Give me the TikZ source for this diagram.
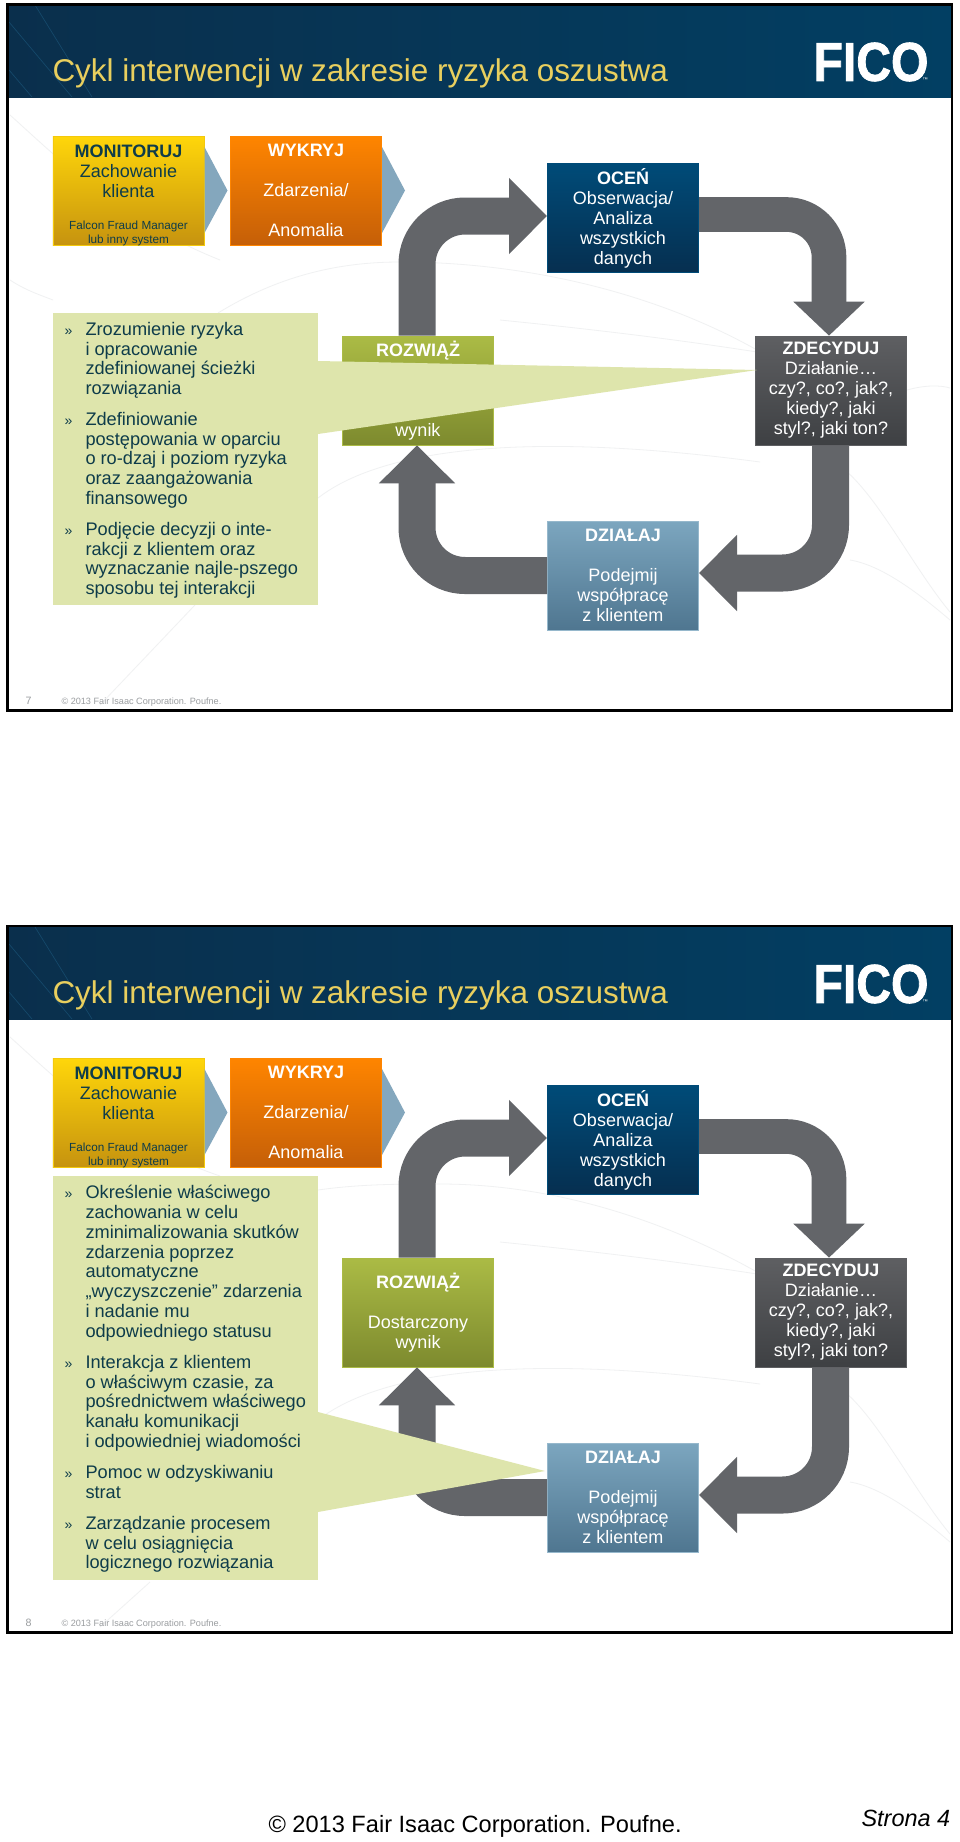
\documentclass[tikz,border=0pt]{standalone}
\usepackage{fontspec}
\setmainfont{Liberation Sans}
\newfontfamily\logofont[BoldFeatures={FakeBold=1.6}]{Liberation Sans}
\usetikzlibrary{arrows.meta,calc}

\definecolor{headdark}{HTML}{0A2F4C}
\definecolor{headblue}{HTML}{023F63}
\definecolor{headline}{HTML}{15496B}
\definecolor{titleyellow}{HTML}{E9CF5E}
\definecolor{panelgreen}{HTML}{DEE5AC}
\definecolor{bodyteal}{HTML}{0E3C4A}
\definecolor{arrowgray}{HTML}{636569}
\definecolor{chevronblue}{HTML}{84A7BD}
\definecolor{wavegray}{HTML}{F0F1F2}
\definecolor{footgray}{HTML}{9A9DA0}

\tikzset{every picture/.style={line width=0.75pt}}
\tikzset{
  stepbox/.style={minimum width=113.5pt,minimum height=81.75pt,inner sep=0pt,align=center,line width=0.5pt,text=white,font=\fontsize{13.5}{15}\selectfont},
  monitorbox/.style={stepbox,top color=monitortop,bottom color=monitorbot,draw=monitortop!80!monitorbot},
  detectbox/.style={stepbox,top color=detecttop,bottom color=detectbot,draw=detecttop},
  assessbox/.style={stepbox,top color=assesstop,bottom color=assessbot,draw=assesstop},
  decidebox/.style={stepbox,top color=decidetop,bottom color=decidebot,draw=decidetop},
  actbox/.style={stepbox,top color=acttop,bottom color=actbot,draw=acttop!80!white},
  solvebox/.style={stepbox,top color=solvetop,bottom color=solvebot,draw=solvetop},
  cyclearrow/.style={draw=arrowgray,line width=27.75pt,rounded corners=36pt,-{Triangle[width=55.5pt,length=28.5pt]}},
  cyclearrowthin/.style={draw=arrowgray,line width=26pt,rounded corners=32pt,-{Triangle[width=52pt,length=25.5pt]}},
  chevron/.style={fill=chevronblue},
  panelbox/.style={fill=panelgreen,minimum width=199pt,inner sep=0pt},
  paratext/.style={anchor=north west,inner sep=0pt,align=left,text=bodyteal,font=\fontsize{13.65}{14.9}\selectfont},
  parabullet/.style={anchor=base west,inner sep=0pt,text=bodyteal,font=\fontsize{10.5}{11}\selectfont},
  titletext/.style={anchor=base west,inner sep=0pt,text=titleyellow,font=\fontsize{23.6}{26}\selectfont},
  logotext/.style={inner sep=0pt,text=white,xscale=0.88,font=\logofont\fontsize{41}{41}\bfseries\selectfont},
  tmtext/.style={anchor=base west,inner sep=0pt,text=white,font=\fontsize{4}{4}\selectfont},
  foottext/.style={anchor=base west,inner sep=0pt,text=footgray,font=\fontsize{6.85}{8}\selectfont},
  bgwave/.style={draw=wavegray,line width=0.6pt},
  headwave/.style={draw=headline,line width=0.5pt}
}
\definecolor{monitortop}{HTML}{FFD60A}
\definecolor{monitorbot}{HTML}{C6930F}
\definecolor{detecttop}{HTML}{FF8500}
\definecolor{detectbot}{HTML}{C55F08}
\definecolor{assesstop}{HTML}{004B78}
\definecolor{assessbot}{HTML}{062F50}
\definecolor{decidetop}{HTML}{5E5F62}
\definecolor{decidebot}{HTML}{3E4043}
\definecolor{acttop}{HTML}{7CA6BF}
\definecolor{actbot}{HTML}{4F7690}
\definecolor{solvetop}{HTML}{ABBB45}
\definecolor{solvebot}{HTML}{7D8A2E}

\begin{document}
\begin{tikzpicture}[x=0.75pt,y=0.75pt,yscale=-1,xscale=1]
\useasboundingbox (0,0) rectangle (960,1842);
\fill [white] (0,0) rectangle (960,1842);

%Background curves, upper slide
\draw [bgwave] (218,313) .. controls (280,275) and (340,262) .. (400,262) .. controls (520,262) and (650,290) .. (757,350) ;
\draw [bgwave] (10,115) .. controls (60,160) and (120,220) .. (220,260) ;
\draw [bgwave] (10,280) .. controls (25,290) and (40,295) .. (53,300) ;
\draw [bgwave] (318,498) .. controls (380,450) and (520,430) .. (760,462) ;
\draw [bgwave] (100,705) -- (195,605) ;
\draw [bgwave] (500,320) .. controls (600,330) and (680,340) .. (757,352) ;
\draw [bgwave] (845,470) .. controls (880,500) and (915,570) .. (950,612) ;
\draw [bgwave] (850,560) .. controls (880,565) and (915,590) .. (950,620) ;
\draw [bgwave] (907,390) .. controls (925,385) and (940,385) .. (950,388) ;

%Background curves, lower slide
\draw [bgwave] (318,1190) .. controls (360,1184) and (400,1184) .. (440,1184) .. controls (540,1184) and (650,1212) .. (757,1272) ;
\draw [bgwave] (10,1037) .. controls (60,1082) and (120,1142) .. (220,1176) ;
\draw [bgwave] (318,1420) .. controls (380,1372) and (520,1352) .. (760,1384) ;
\draw [bgwave] (100,1627) -- (150,1582) ;
\draw [bgwave] (500,1242) .. controls (600,1252) and (680,1262) .. (757,1274) ;
\draw [bgwave] (845,1392) .. controls (880,1422) and (915,1492) .. (950,1534) ;
\draw [bgwave] (850,1482) .. controls (880,1487) and (915,1512) .. (950,1542) ;

%Upper slide: header
\fill [left color=headdark,middle color=headblue,right color=headblue] (7,4) rectangle (952,97) ;
\draw [headwave] (35,5) -- (92,97) ;
\draw [headwave] (9,22) -- (72,97) ;
\draw [headwave] (9,70) -- (32,97) ;
% Text Node
\draw (52,81) node (title1) [titletext] {Cykl interwencji w zakresie ryzyka oszustwa};
% Text Node
\draw (871,62) node (logo1) [logotext] {FICO};
% Text Node
\draw (922,81) node (tm1) [tmtext] {™};

%Upper slide: boxes
\draw (128.5,190.5) node (monitor1) [monitorbox] {};
\draw (128.5,144) node (monitorlabel1) [anchor=north,inner sep=0pt,align=center,text=bodyteal,font=\fontsize{13.5}{15}\selectfont] {\textbf{MONITORUJ}\\Zachowanie\\klienta\\[9.5pt]{\fontsize{8.8}{9.8}\selectfont Falcon Fraud Manager}\\[-5pt]{\fontsize{8.8}{9.8}\selectfont lub inny system}};
\draw (306,190.5) node (detect1) [detectbox] {\textbf{WYKRYJ}\\[15pt]Zdarzenia/\\[15pt]Anomalia};
\draw (623,218) node (assess1) [assessbox] {\textbf{OCEŃ}\\Obserwacja/\\Analiza\\wszystkich\\danych};
\draw (831,390.5) node (decide1) [decidebox] {\textbf{ZDECYDUJ}\\Działanie…\\czy?, co?, jak?,\\kiedy?, jaki\\styl?, jaki ton?};
\draw (623,575.5) node (act1) [actbox] {\textbf{DZIAŁAJ}\\[15pt]Podejmij\\współpracę\\z klientem};
\draw (418,390.5) node (solve1) [solvebox] {\textbf{ROZWIĄŻ}\\[45pt]wynik};

%Upper slide: chevrons
\fill [chevron] ($(monitor1.east)+(0,-43.5)$) -- ($(monitor1.east)+(23,0)$) -- ($(monitor1.east)+(0,42.5)$) -- cycle ;
\fill [chevron] ($(detect1.east)+(0,-43.5)$) -- ($(detect1.east)+(23,0)$) -- ($(detect1.east)+(0,42.5)$) -- cycle ;

%Upper slide: cycle arrows
\draw [cyclearrow] ($(solve1.north)+(-1,0)$) |- ($(assess1.west)+(0,-2)$) ;
\draw [cyclearrowthin] ($(assess1.east)+(0,-3.5)$) -| ($(decide1.north)+(-2,0)$) ;
\draw [cyclearrow] ($(decide1.south)+(-0.5,0)$) |- ($(act1.east)+(0,-2.5)$) ;
\draw [cyclearrow] (act1.west) -| ($(solve1.south)+(-1,0)$) ;

%Upper slide: panel and wedge
\draw (185.5,459) node (panel1) [panelbox,minimum height=219pt] {};
\fill [panelgreen] (318,361) -- (757,370) -- (318,434) -- cycle ;
% Text Node
\draw (64,335) node (bullet11) [parabullet] {»};
\draw (85,321.5) node (para11) [paratext] {Zrozumienie ryzyka\\i opracowanie\\zdefiniowanej ścieżki\\rozwiązania};
% Text Node
\draw (64,425) node (bullet12) [parabullet] {»};
\draw (85,411.5) node (para12) [paratext] {Zdefiniowanie\\postępowania w oparciu\\o ro-dzaj i poziom ryzyka\\oraz zaangażowania\\finansowego};
% Text Node
\draw (64,535) node (bullet13) [parabullet] {»};
\draw (85,521.5) node (para13) [paratext] {Podjęcie decyzji o inte-\\rakcji z klientem oraz\\wyznaczanie najle-pszego\\sposobu tej interakcji};

%Upper slide: footer and frame
\draw (25,704) node (page1) [foottext,font=\fontsize{8}{9}\selectfont] {7};
\draw (61,704) node (foot1) [foottext] {© 2013 Fair Isaac Corporation. Poufne.};
\draw [line width=1.9pt] (7.5,4.5) rectangle (952,710.5) ;

%Lower slide: header
\fill [left color=headdark,middle color=headblue,right color=headblue] (7,926) rectangle (952,1019) ;
\draw [headwave] (35,927) -- (92,1019) ;
\draw [headwave] (9,944) -- (72,1019) ;
\draw [headwave] (9,992) -- (32,1019) ;
% Text Node
\draw (52,1003) node (title2) [titletext] {Cykl interwencji w zakresie ryzyka oszustwa};
% Text Node
\draw (871,984) node (logo2) [logotext] {FICO};
% Text Node
\draw (922,1003) node (tm2) [tmtext] {™};

%Lower slide: boxes
\draw (128.5,1112.5) node (monitor2) [monitorbox] {};
\draw (128.5,1066) node (monitorlabel2) [anchor=north,inner sep=0pt,align=center,text=bodyteal,font=\fontsize{13.5}{15}\selectfont] {\textbf{MONITORUJ}\\Zachowanie\\klienta\\[9.5pt]{\fontsize{8.8}{9.8}\selectfont Falcon Fraud Manager}\\[-5pt]{\fontsize{8.8}{9.8}\selectfont lub inny system}};
\draw (306,1112.5) node (detect2) [detectbox] {\textbf{WYKRYJ}\\[15pt]Zdarzenia/\\[15pt]Anomalia};
\draw (623,1140) node (assess2) [assessbox] {\textbf{OCEŃ}\\Obserwacja/\\Analiza\\wszystkich\\danych};
\draw (831,1312.5) node (decide2) [decidebox] {\textbf{ZDECYDUJ}\\Działanie…\\czy?, co?, jak?,\\kiedy?, jaki\\styl?, jaki ton?};
\draw (623,1497.5) node (act2) [actbox] {\textbf{DZIAŁAJ}\\[15pt]Podejmij\\współpracę\\z klientem};
\draw (418,1312.5) node (solve2) [solvebox] {\textbf{ROZWIĄŻ}\\[15pt]Dostarczony\\wynik};

%Lower slide: chevrons
\fill [chevron] ($(monitor2.east)+(0,-43.5)$) -- ($(monitor2.east)+(23,0)$) -- ($(monitor2.east)+(0,42.5)$) -- cycle ;
\fill [chevron] ($(detect2.east)+(0,-43.5)$) -- ($(detect2.east)+(23,0)$) -- ($(detect2.east)+(0,42.5)$) -- cycle ;

%Lower slide: cycle arrows
\draw [cyclearrow] ($(solve2.north)+(-1,0)$) |- ($(assess2.west)+(0,-2)$) ;
\draw [cyclearrowthin] ($(assess2.east)+(0,-3.5)$) -| ($(decide2.north)+(-2,0)$) ;
\draw [cyclearrow] ($(decide2.south)+(-0.5,0)$) |- ($(act2.east)+(0,-2.5)$) ;
\draw [cyclearrow] (act2.west) -| ($(solve2.south)+(-1,0)$) ;

%Lower slide: panel and wedge
\draw (185.5,1378) node (panel2) [panelbox,minimum height=303pt] {};
\fill [panelgreen] (318,1412) -- (545,1471) -- (318,1512) -- cycle ;
% Text Node
\draw (64,1198) node (bullet21) [parabullet] {»};
\draw (85,1184.5) node (para21) [paratext] {Określenie właściwego\\zachowania w celu\\zminimalizowania skutków\\zdarzenia poprzez\\automatyczne\\„wyczyszczenie” zdarzenia\\i nadanie mu\\odpowiedniego statusu};
% Text Node
\draw (64,1368) node (bullet22) [parabullet] {»};
\draw (85,1354.5) node (para22) [paratext] {Interakcja z klientem\\o właściwym czasie, za\\pośrednictwem właściwego\\kanału komunikacji\\i odpowiedniej wiadomości};
% Text Node
\draw (64,1478) node (bullet23) [parabullet] {»};
\draw (85,1464.5) node (para23) [paratext] {Pomoc w odzyskiwaniu\\strat};
% Text Node
\draw (64,1529) node (bullet24) [parabullet] {»};
\draw (85,1515.5) node (para24) [paratext] {Zarządzanie procesem\\w celu osiągnięcia\\logicznego rozwiązania};

%Lower slide: footer and frame
\draw (25,1626) node (page2) [foottext,font=\fontsize{8}{9}\selectfont] {8};
\draw (61,1626) node (foot2) [foottext] {© 2013 Fair Isaac Corporation. Poufne.};
\draw [line width=1.9pt] (7.5,926) rectangle (952,1632.5) ;

%Page footer
\draw (268,1832) node (copyright) [anchor=base west,inner sep=0pt,font=\fontsize{17.7}{20}\selectfont] {© 2013 Fair Isaac Corporation. Poufne.};
\draw (861,1826) node (pagenum) [anchor=base west,inner sep=0pt,font=\fontsize{17.6}{20}\itshape\selectfont] {Strona 4};

\end{tikzpicture}
\end{document}
